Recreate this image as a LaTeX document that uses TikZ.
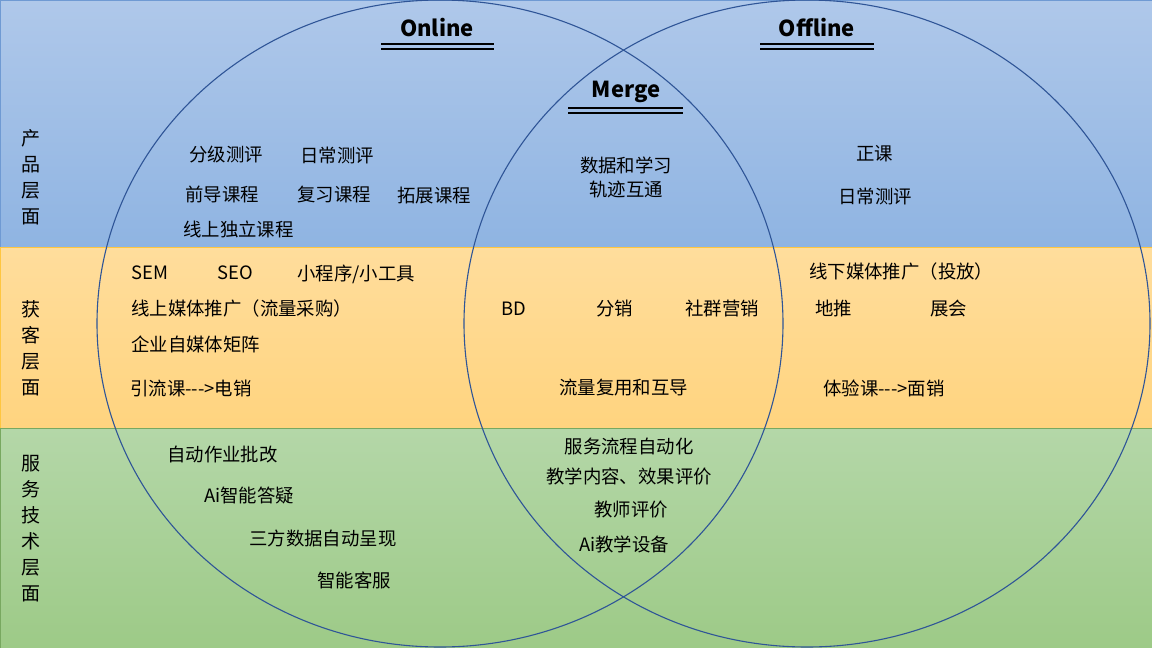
\documentclass[tikz,border=0pt]{standalone}
\usepackage{fontspec}
\setmainfont{Noto Sans CJK SC}[Ligatures=TeXOff]
\usepackage{xcolor}
\definecolor{blueT}{HTML}{AFC8EA}
\definecolor{blueB}{HTML}{8FB4E2}
\definecolor{blueE}{HTML}{6F9AD3}
\definecolor{orangeT}{HTML}{FFDD9C}
\definecolor{orangeB}{HTML}{FFD47F}
\definecolor{orangeE}{HTML}{FFC640}
\definecolor{greenT}{HTML}{B4D7A8}
\definecolor{greenB}{HTML}{9DCA87}
\definecolor{greenE}{HTML}{78A860}
\definecolor{ringblue}{HTML}{2F5597}

\begin{document}
\begin{tikzpicture}
    [x=1pt, y=-1pt,
     ring/.style={draw=ringblue, line width=1.1pt},
     item/.style={anchor=west, inner sep=0pt, font=\fontsize{18.4}{24}\selectfont},
     mitem/.style={item, anchor=center, align=center},
     side/.style={align=center, inner sep=0pt, font=\fontsize{19}{26}\selectfont},
     title/.style={inner sep=0pt, font=\fontsize{22}{26}\selectfont\bfseries},
     rule/.style={line width=2.5pt}]
    \useasboundingbox (0,0) rectangle (1152,648);

    % layers
    \shade[top color=blueT, bottom color=blueB, draw=blueE, line width=0.8pt] (0,0) rectangle (1152,247);
    \shade[top color=orangeT, bottom color=orangeB, draw=orangeE, line width=0.8pt] (0,247) rectangle (1152,428);
    \shade[top color=greenT, bottom color=greenB, draw=greenE, line width=0.8pt] (0,428) rectangle (1152,648);

    % online / offline
    \draw[ring] (440,323.5) ellipse [x radius=343, y radius=323.5];
    \draw[ring] (807,323.5) ellipse [x radius=343, y radius=323.5];

    \node(side1)[side] at (31,177) {产\\品\\层\\面};
    \node(side2)[side] at (31,348) {获\\客\\层\\面};
    \node(side3)[side] at (31,529) {服\\务\\技\\术\\层\\面};

    \node(online)[title] at (437,28) {Online};
    \node(offline)[title] at (817,28) {Offline};
    \node(merge)[title] at (626,92) {Merge};
    \foreach \n/\a/\b/\y in {on/381/494/44,off/760/874/44,mg/568/683/108}{
        \coordinate (\n L) at (\a,\y);
        \coordinate (\n R) at (\b,\y);
        \draw[rule] (\n L) -- (\n R);
        \draw[rule] ([yshift=-5pt]\n L) -- ([yshift=-5pt]\n R);
    }

    \foreach \n/\x/\y/\t in {p1/189/155/分级测评,p2/300/155/日常测评,p3/185/194/前导课程,p4/297/195/复习课程,p5/397/196/拓展课程,p6/183/229/线上独立课程,p7/856/154/正课,p8/838/196/日常测评,
        a1/131/273/SEM,a2/217/273/SEO,a3/297/274/{小程序/小工具},a4/131/309/线上媒体推广（流量采购）,a5/131/344/企业自媒体矩阵,a6/130/388/引流课--->电销,a7/501/309/BD,a8/596/309/分销,a9/685/309/社群营销,a10/809/272/线下媒体推广（投放）,a11/815/309/地推,a12/930/309/展会,a13/823/388/体验课--->面销,a14/559/388/流量复用和互导,
        s1/167/455/自动作业批改,s2/204/496/Ai智能答疑,s3/249/538/三方数据自动呈现,s4/317/580/智能客服}{
        \node(\n)[item] at (\x,\y) {\t};
    }
    \foreach \n/\x/\y/\t in {m1/626/177/{数据和学习\\轨迹互通},m2/629/446/服务流程自动化,m3/629/476/教学内容、效果评价,m4/631/510/教师评价,m5/624/544/Ai教学设备}{
        \node(\n)[mitem] at (\x,\y) {\t};
    }
\end{tikzpicture}
\end{document}
